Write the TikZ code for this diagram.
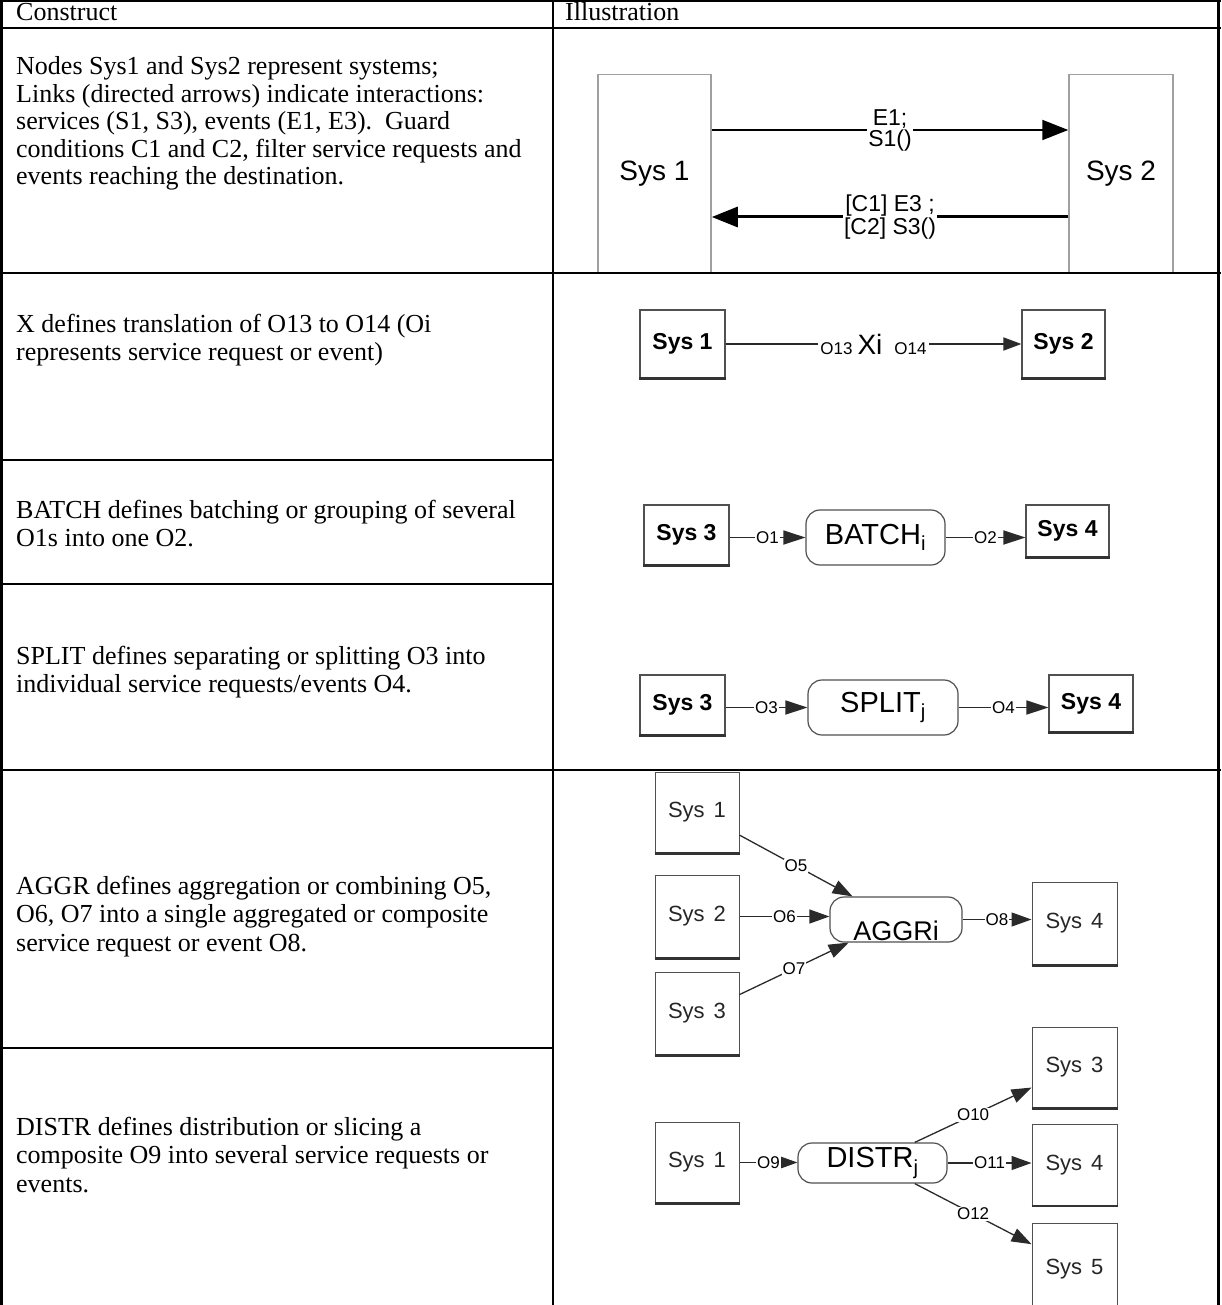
\documentclass[tikz,border=0pt]{standalone}
\usepackage{fontspec}
\setmainfont{Liberation Serif}
\newfontfamily\arialf{Liberation Sans}
\usetikzlibrary{arrows.meta,calc}
\definecolor{boxgray}{HTML}{505050}
\definecolor{lightbox}{HTML}{A0A0A0}
\definecolor{linegray}{HTML}{2A2A2A}
\begin{document}
\begin{tikzpicture}[x=1pt,y=-1pt,
  tbl/.style={line width=2.5pt,black},
  txt/.style={anchor=base west,inner sep=0pt,font=\fontsize{26}{28.5}\selectfont},
  bigsys/.style={draw=lightbox,line width=1.5pt,inner sep=0pt,font=\arialf\fontsize{28}{30}\selectfont},
  midsys/.style={draw=boxgray,line width=1.2pt,inner sep=0pt,font=\arialf\bfseries\fontsize{23}{25}\selectfont},
  smallsys/.style={draw=boxgray,line width=1pt,inner sep=0pt,font=\arialf\fontsize{22}{24}\selectfont,text=black!85},
  oper/.style={draw=boxgray,line width=1.2pt,rounded corners=14pt,inner sep=0pt,font=\arialf\fontsize{29}{31}\selectfont},
  olbl/.style={fill=white,inner sep=1pt,font=\arialf\fontsize{17}{18}\selectfont},
  lblA/.style={fill=white,inner sep=1pt,align=center,font=\arialf\fontsize{23}{21}\selectfont},
  arrA/.style={line width=2pt,-{Triangle[length=26pt,width=20pt]}},
  arrB/.style={line width=1.8pt,draw=linegray,-{Triangle[length=22pt,width=14pt]}},
  arrC/.style={line width=1.3pt,draw=linegray,-{Triangle[length=20pt,width=14pt]}},
  botline/.style={line width=2.5pt,draw=black!80},
]
\fill[white] (0,0) rectangle (1221,1305);
\useasboundingbox (0,0) rectangle (1221,1305);
\clip (0,0) rectangle (1221,1305);

% ---------- left column text ----------
\node[txt] (hc) at (16,21) {Construct};
\node[txt] (hi) at (565,21) {Illustration};

\node[txt] (r1a) at (16,75) {Nodes Sys1 and Sys2 represent systems;};
\node[txt] (r1b) at (16,102.5) {Links (directed arrows) indicate interactions:};
\node[txt] (r1c) at (16,130) {services (S1, S3), events (E1, E3).\ \ Guard};
\node[txt] (r1d) at (16,157.5) {conditions C1 and C2, filter service requests and};
\node[txt] (r1e) at (16,185) {events reaching the destination.};

\node[txt] (rxa) at (16,332) {X defines translation of O13 to O14 (Oi};
\node[txt] (rxb) at (16,360.5) {represents service request or event)};

\node[txt] (rba) at (16,518) {BATCH defines batching or grouping of several};
\node[txt] (rbb) at (16,546.5) {O1s into one O2.};

\node[txt] (rsa) at (16,664) {SPLIT defines separating or splitting O3 into};
\node[txt] (rsb) at (16,692.5) {individual service requests/events O4.};

\node[txt] (raa) at (16,894) {AGGR defines aggregation or combining O5,};
\node[txt] (rab) at (16,922.5) {O6, O7 into a single aggregated or composite};
\node[txt] (rac) at (16,951) {service request or event O8.};

\node[txt] (rda) at (16,1135) {DISTR defines distribution or slicing a};
\node[txt] (rdb) at (16,1163.5) {composite O9 into several service requests or};
\node[txt] (rdc) at (16,1192) {events.};

% ---------- row 1 ----------
\node[bigsys,minimum width=113pt,minimum height=198pt] (s1a) at (654.5,173.5) {Sys 1};
\node[bigsys,minimum width=104pt,minimum height=198pt] (s2a) at (1121,173.5) {Sys 2};
\coordinate (ya) at (0,130);
\coordinate (yb) at (0,217);
\draw[arrA] (s1a.east |- ya) -- node[lblA] (la) {E1;\\{}S1()} (s2a.west |- ya);
\draw[arrA,line width=3pt] (s2a.west |- yb) -- node[lblA] (lb) {{[C1] E3 ;}\\{}{[C2] S3()}} (s1a.east |- yb);

% ---------- X ----------
\node[midsys,minimum width=85pt,minimum height=68pt] (s1x) at (682.5,344) {Sys 1};
\node[midsys,minimum width=83pt,minimum height=68pt] (s2x) at (1063.5,344) {Sys 2};
\draw[line width=1.8pt,draw=linegray,-{Triangle[length=18pt,width=13pt]}] (s1x.east) --
  node[fill=white,inner sep=2pt,font=\arialf] (xl)
  {\fontsize{17}{18}\selectfont O13\hspace{5pt}\fontsize{28}{30}\selectfont Xi\hspace{12pt}\fontsize{17}{18}\selectfont O14} (s2x.west);

% ---------- BATCH ----------
\node[midsys,minimum width=85pt,minimum height=60pt] (s3b) at (686.5,535) {Sys 3};
\node[oper,minimum width=139pt,minimum height=55pt] (bat) at (875.5,537.5) {BATCH\textsubscript{i}};
\node[midsys,minimum width=83pt,minimum height=52pt] (s4b) at (1067.5,531) {Sys 4};
\draw[arrB] (s3b.east |- bat.west) -- node[olbl] (o1) {O1} (bat.west);
\draw[arrB] (bat.east) -- node[olbl] (o2) {O2} (s4b.west |- bat.east);

% ---------- SPLIT ----------
\node[midsys,minimum width=85pt,minimum height=60pt] (s3s) at (682.5,705) {Sys 3};
\node[oper,minimum width=150pt,minimum height=55pt] (spl) at (883,707.5) {SPLIT\textsubscript{j}};
\node[midsys,minimum width=84pt,minimum height=57pt] (s4s) at (1091,703.5) {Sys 4};
\draw[arrB] (s3s.east |- spl.west) -- node[olbl] (o3) {O3} (spl.west);
\draw[arrB] (spl.east) -- node[olbl] (o4) {O4} (s4s.west |- spl.east);

% ---------- AGGR ----------
\node[smallsys,minimum width=84pt,minimum height=81pt] (a1) at (697,812.5) {Sys\hspace{9pt}1};
\node[smallsys,minimum width=84pt,minimum height=83pt] (a2) at (697,916.5) {Sys\hspace{9pt}2};
\node[smallsys,minimum width=84pt,minimum height=83pt] (a3) at (697,1013.5) {Sys\hspace{9pt}3};
\node[oper,minimum width=132pt,minimum height=45pt,font=\arialf\fontsize{27}{29}\selectfont,text height=41pt,text depth=0pt] (agg) at (896,919.5) {AGGRi};
\node[smallsys,minimum width=85pt,minimum height=83pt] (a4) at (1074.5,923.5) {Sys\hspace{9pt}4};
\draw[arrC] (a1.-28) -- node[olbl] (o5) {O5} (agg.152);
\draw[arrC] (a2.east) -- node[olbl] (o6) {O6} (agg.west |- a2.east);
\draw[arrC] (a3.24) -- node[olbl] (o7) {O7} (agg.206);
\draw[arrC] (agg.east) -- node[olbl] (o8) {O8} (a4.west |- agg.east);

% ---------- DISTR ----------
\node[smallsys,minimum width=84pt,minimum height=81pt] (d1) at (697,1162.5) {Sys\hspace{9pt}1};
\node[oper,minimum width=149pt,minimum height=40pt] (dis) at (872.5,1163) {DISTR\textsubscript{j}};
\node[smallsys,minimum width=85pt,minimum height=81pt] (d3) at (1074.5,1067.5) {Sys\hspace{9pt}3};
\node[smallsys,minimum width=85pt,minimum height=81pt] (d4) at (1074.5,1165) {Sys\hspace{9pt}4};
\node[smallsys,minimum width=85pt,minimum height=92pt] (d5) at (1074.5,1269) {Sys\hspace{9pt}5};
\draw[arrC] (d1.east) -- node[olbl] (o9) {O9} (dis.west |- d1.east);
\draw[arrC] (dis.26) -- node[olbl] (o10) {O10} (d3.205);
\draw[arrC] (dis.east) -- node[olbl] (o11) {O11} (d4.west |- dis.east);
\draw[arrC] (dis.-26) -- node[olbl] (o12) {O12} (d5.150);

% bottom shadow edges
\foreach \n in {s1x,s2x,s3b,s4b,s3s,s4s,a1,a2,a3,a4,d1,d3,d4}
  \draw[botline] (\n.south west) -- (\n.south east);

% ---------- table ----------
\draw[tbl] (0,1.25) -- (1221,1.25);
\draw[tbl] (1.25,0) -- (1.25,1305);
\draw[tbl] (1218.5,0) -- (1218.5,1305);
\draw[tbl] (553,0) -- (553,1305);
\draw[tbl] (0,28) -- (1221,28);
\draw[tbl] (0,273) -- (1221,273);
\draw[tbl] (0,460) -- (553,460);
\draw[tbl] (0,584) -- (553,584);
\draw[tbl] (0,770) -- (1221,770);
\draw[tbl] (0,1048) -- (553,1048);
\end{tikzpicture}
\end{document}
